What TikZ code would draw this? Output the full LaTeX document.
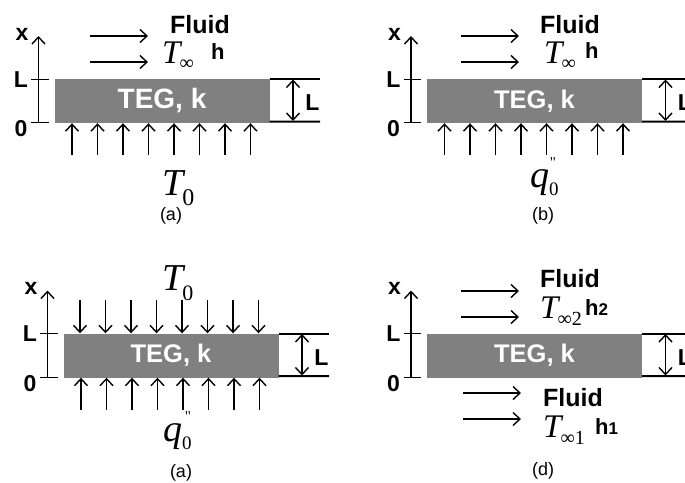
\documentclass[tikz,border=0pt]{standalone}
\usepackage{fontspec}
\setmainfont{Liberation Sans}
\newfontfamily\tms{Liberation Serif}
\usetikzlibrary{arrows.meta}
\newcommand{\fsz}[1]{\fontsize{#1}{#1}\selectfont}
% \symT{subscript}{T size}{subscript size}{drop}
\newcommand{\symT}[4]{{\tms\fsz{#2}\itshape T\hspace{-1pt}\raisebox{-#4pt}{\upshape\fsz{#3}\mbox{#1}}}}
\newcommand{\symq}{{\tms\fsz{38}\itshape q\raisebox{-8pt}{\upshape\fsz{19}0}}}
\tikzset{
  tip/.style={-{Straight Barb[length=7pt,width=13pt,line width=1.4pt]},line width=1.3pt},
  dbl/.style={{Straight Barb[length=7pt,width=13pt,line width=1.4pt]}-{Straight Barb[length=7pt,width=13pt,line width=1.4pt]},line width=1.3pt},
  plate/.style={fill=black!50,text=white,minimum width=215pt,minimum height=44pt,inner sep=0pt},
  tag/.style={inner sep=0pt,font=\bfseries\fsz{23}},
  fluid/.style={inner sep=0pt,font=\bfseries\fsz{25},anchor=base west},
  hlab/.style={inner sep=0pt,font=\bfseries\fsz{22},anchor=base west},
  capt/.style={inner sep=0pt,font=\fsz{18}},
  sym/.style={inner sep=0pt,anchor=base west},
  qq/.style={inner sep=0pt,font=\tms\fsz{15}},
}
% common part: plate, x axis, thickness bracket
\newcommand{\basepanel}[4]{%
  \begin{scope}[shift={(#2,#3)}]
    \node[plate,font=\bfseries\fsz{#4}] (#1p) at (162,101) {TEG, k};
    \coordinate (#1a0) at (38.5,122.5);
    \coordinate (#1a1) at (38.5,36);
    \draw[tip] (#1a0) -- (#1a1);
    \draw[line width=.8pt] (31,79) -- (48.5,79);
    \draw[line width=1pt] (31,122.5) -- (48.5,122.5);
    \node[tag] (#1x) at (22,34) {x};
    \node[tag] (#1L) at (21,79.5) {L};
    \node[tag] (#1o) at (21,129) {0};
    \coordinate (#1r0) at (320,79);
    \coordinate (#1r1) at (320,121.5);
    \draw[line width=2pt] (#1p.north east) ++(0,.2) -- (#1r0);
    \draw[line width=2pt] (#1p.south east) ++(0,-1.5) -- (#1r1);
    \coordinate (#1d0) at (293,79.5);
    \coordinate (#1d1) at (293,121);
    \draw[dbl] (#1d0) -- (#1d1);
    \node[tag] (#1w) at (312.5,103) {L};
  \end{scope}}
% row of eight arrows pointing at the plate
\newcommand{\uprow}[3]{%
  \begin{scope}[shift={(#2,#3)}]
    \foreach \i in {0,...,7}{
      \coordinate (#1u\i) at (72+25.5*\i,155);
      \draw[tip] (#1u\i) -- (#1u\i |- #1p.south);
    }
  \end{scope}}
\newcommand{\flowpair}[4]{%
  \coordinate (#1f0) at (#2,#3);
  \coordinate (#1f1) at (#2+58,#3);
  \coordinate (#1g0) at (#2,#4);
  \coordinate (#1g1) at (#2+58,#4);
  \draw[tip] (#1f0) -- (#1f1);
  \draw[tip] (#1g0) -- (#1g1);}
\begin{document}
\begin{tikzpicture}[x=1pt,y=-1pt]
\useasboundingbox (0,0) rectangle (685,482);
\clip (0,0) rectangle (685,482);
% panel a
\basepanel{a}{0}{0}{28}
\uprow{a}{0}{0}
\flowpair{a}{90}{36}{62}
\node[fluid] (aF) at (170,33) {Fluid};
\node[sym] (aT) at (162,63) {\symT{∞}{33}{20}{6}};
\node[hlab] (ah) at (211,59) {h};
\node[sym] (aT0) at (162,195) {\symT{0}{38}{24}{10}};
\node[capt] (ac) at (171,216) {(a)};
% panel b
\basepanel{b}{372.5}{0}{25.5}
\uprow{b}{372.5}{0}
\flowpair{b}{461}{36}{62}
\node[fluid] (bF) at (540,33) {Fluid};
\node[sym] (bT) at (544,63) {\symT{∞}{33}{20}{6}};
\node[hlab] (bh) at (585,58) {h};
\node[qq] (bq2) at (553,163) {"};
\node[sym] (bq) at (530,187) {\symq};
\node[capt] (bc) at (543,216) {(b)};
% panel c
\basepanel{c}{9}{254.5}{25.5}
\uprow{c}{9}{254.5}
\foreach \i in {0,...,7}{
  \coordinate (cv\i) at (80+25.5*\i,300);
  \draw[tip] (cv\i) -- (cv\i |- cp.north);
}
\node[sym] (cT0) at (162,290) {\symT{0}{38}{22}{10}};
\node[qq] (cq2) at (188,417) {"};
\node[sym] (cq) at (163,441) {\symq};
\node[capt] (cc) at (181,473) {(a)};
% panel d
\basepanel{d}{372.5}{254.5}{25.5}
\flowpair{d}{461}{291}{317}
\node[fluid] (dF) at (540,287) {Fluid};
\node[sym] (dT) at (540,318) {\symT{∞2}{33}{20}{7}};
\node[hlab] (dh) at (585,315) {h\fsz{17}2};
\flowpair{e}{463}{393}{419}
\node[fluid] (eF) at (543,406) {Fluid};
\node[sym] (eT) at (543,437) {\symT{∞1}{33}{20}{7}};
\node[hlab] (eh) at (595,434) {h\fsz{17}1};
\node[capt] (dc) at (543,471) {(d)};
\end{tikzpicture}
\end{document}
